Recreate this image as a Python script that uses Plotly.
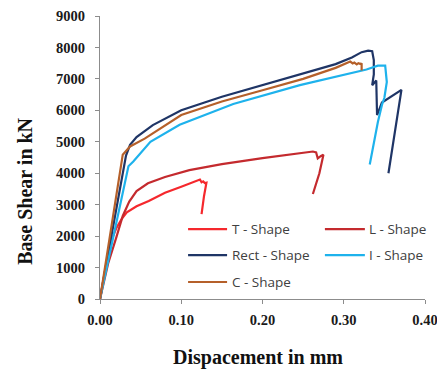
import plotly.graph_objects as go

# ---- data ----
t_x = [0, 0.007, 0.012, 0.020, 0.027, 0.033, 0.045, 0.060, 0.080, 0.100, 0.115, 0.121, 0.123, 0.125, 0.127, 0.129, 0.131, 0.128, 0.125]
t_y = [0, 1000, 1750, 2250, 2560, 2760, 2950, 3120, 3380, 3570, 3710, 3775, 3800, 3710, 3740, 3690, 3700, 3270, 2700]

l_x = [0, 0.010, 0.020, 0.028, 0.036, 0.045, 0.059, 0.080, 0.110, 0.150, 0.200, 0.234, 0.255, 0.262, 0.266, 0.268, 0.272, 0.275, 0.270, 0.262]
l_y = [0, 1130, 1950, 2640, 3100, 3430, 3680, 3880, 4100, 4290, 4480, 4590, 4680, 4690, 4660, 4470, 4550, 4590, 4000, 3340]

rect_x = [0, 0.032, 0.037, 0.045, 0.065, 0.100, 0.150, 0.200, 0.250, 0.290, 0.310, 0.322, 0.330, 0.335, 0.337, 0.337, 0.335, 0.340, 0.341, 0.347, 0.371, 0.355]
rect_y = [0, 4560, 4900, 5150, 5530, 6000, 6430, 6800, 7150, 7470, 7680, 7850, 7900, 7880, 7600, 7140, 6800, 6950, 5850, 6250, 6650, 4000]

i_x = [0, 0.035, 0.041, 0.062, 0.098, 0.164, 0.246, 0.328, 0.342, 0.347, 0.351, 0.353, 0.350, 0.347, 0.342, 0.332]
i_y = [0, 4220, 4370, 5000, 5540, 6200, 6800, 7300, 7420, 7430, 7420, 6900, 6400, 6170, 5630, 4280]

c_x = [0, 0.028, 0.037, 0.055, 0.100, 0.150, 0.200, 0.250, 0.290, 0.308, 0.311, 0.313, 0.316, 0.318, 0.321, 0.322, 0.322]
c_y = [0, 4590, 4850, 5100, 5850, 6280, 6640, 7000, 7350, 7550, 7490, 7520, 7460, 7500, 7470, 7500, 7270]

series_names = ["T - Shape", "L - Shape", "Rect - Shape", "I - Shape", "C - Shape"]
series_x = [t_x, l_x, rect_x, i_x, c_x]
series_y = [t_y, l_y, rect_y, i_y, c_y]
series_colors = ["#F5282D", "#C42A2E", "#1F3566", "#1EB2EC", "#B5602A"]

x_ticks = [0.0, 0.1, 0.2, 0.3, 0.4]
x_tick_labels = ["0.00", "0.10", "0.20", "0.30", "0.40"]
y_ticks = list(range(0, 9001, 1000))
y_tick_labels = [str(v) for v in y_ticks]

fig = go.Figure()
for name, xs, ys, col in zip(series_names, series_x, series_y, series_colors):
    fig.add_trace(go.Scatter(x=xs, y=ys, mode="lines", name=name, showlegend=False,
                             line=dict(color=col, width=2.2)))

# legend drawn manually (2 columns, like the reference)
leg_cols = [(0.271, 0.391, 0.400), (0.692, 0.815, 0.821)]
leg_rows = [0.247, 0.155, 0.060]
shapes = []
annotations = []
for k, (name, col) in enumerate(zip(series_names, series_colors)):
    c = leg_cols[k % 2]
    r = leg_rows[k // 2]
    shapes.append(dict(type="line", xref="paper", yref="paper", x0=c[0], x1=c[1], y0=r, y1=r,
                       line=dict(color=col, width=2.2)))
    annotations.append(dict(text=name, xref="paper", yref="paper", x=c[2], y=r,
                            xanchor="left", yanchor="middle", showarrow=False,
                            font=dict(family="Open Sans", size=13.5, color="#404040")))

serif = "Liberation Serif, Times New Roman, serif"
annotations += [
    dict(text="<b>Base Shear in kN</b>", xref="paper", yref="paper",
         x=-0.231, y=0.382, xanchor="center", yanchor="middle", textangle=-90,
         showarrow=False, font=dict(family=serif, size=20, color="#111")),
    dict(text="<b>Dispacement in mm</b>", xref="paper", yref="paper",
         x=0.485, y=-0.205, xanchor="center", yanchor="middle",
         showarrow=False, font=dict(family=serif, size=20, color="#111")),
]

tick_font = dict(family=serif, size=14.5, color="#1a1a1a")
# the page body adds an 8px offset, so the figure is 437x362 and shifted margins
fig.update_layout(
    width=437, height=362,
    margin=dict(l=92, r=20, t=8, b=71, autoexpand=False),
    paper_bgcolor="white", plot_bgcolor="white",
    showlegend=False,
    xaxis=dict(range=[0, 0.4], tickvals=x_ticks, ticktext=["<b>%s</b>" % s for s in x_tick_labels],
               showgrid=False, zeroline=False, showline=True, linecolor="#8c8c8c",
               linewidth=1, ticks="outside", ticklen=4, tickcolor="#8c8c8c",
               tickfont=tick_font, ticklabelstandoff=4, ticklabeloverflow="allow"),
    yaxis=dict(range=[0, 9000], tickvals=y_ticks, ticktext=["<b>%s</b>" % s for s in y_tick_labels],
               showgrid=False, zeroline=False, showline=True, linecolor="#8c8c8c",
               linewidth=1, ticks="outside", ticklen=4, tickcolor="#8c8c8c",
               tickfont=tick_font, ticklabelstandoff=7, ticklabeloverflow="allow"),
    shapes=shapes,
    annotations=annotations,
)

fig.write_html("out.html")
